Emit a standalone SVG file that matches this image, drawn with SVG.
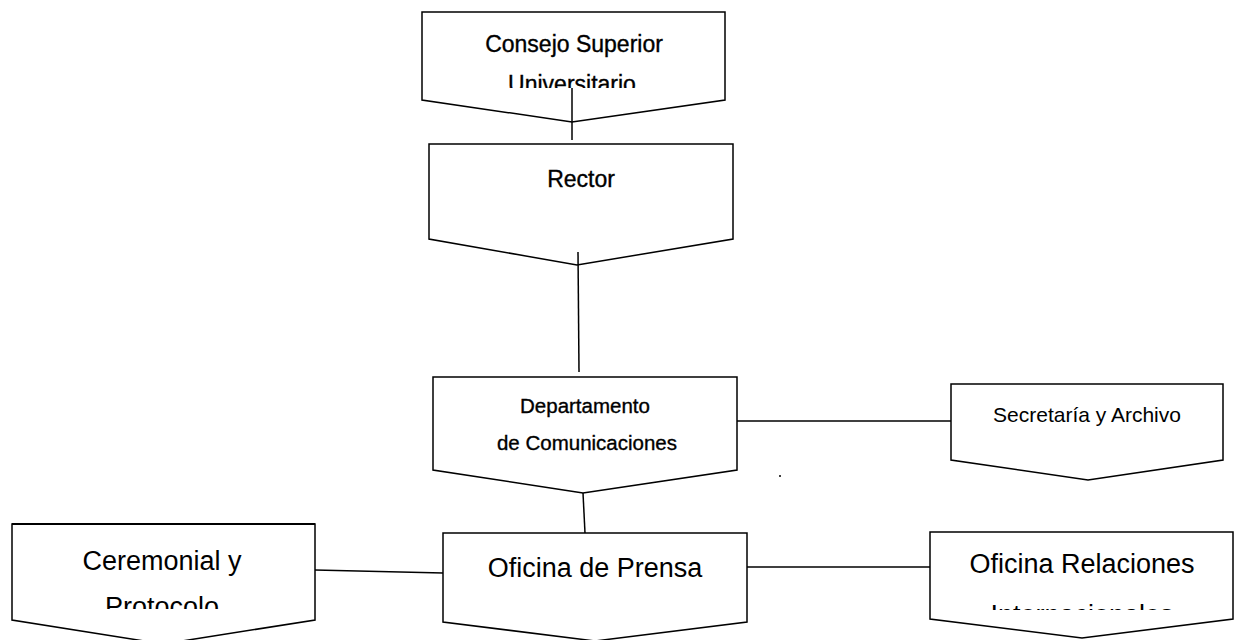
<svg xmlns="http://www.w3.org/2000/svg" width="1240" height="640" viewBox="0 0 1240 640">
<style>
  .box { fill: #fff; stroke: #000; stroke-width: 1.5; stroke-linejoin: miter; }
  .conn { stroke: #000; stroke-width: 1.5; fill: none; }
  text { font-family: "Liberation Sans", Arial, sans-serif; fill: #000; text-anchor: middle; }
  .t1 { font-size: 23px; stroke: #000; stroke-width: 0.35; }
  .t2 { font-size: 20.5px; stroke: #000; stroke-width: 0.35; }
  .t3 { font-size: 21px; }
  .t4 { font-size: 27px; }
</style>
<defs>
  <clipPath id="clipConsejo"><rect x="422" y="12" width="303" height="76"/></clipPath>
  <clipPath id="clipCeremonial"><rect x="12" y="524" width="303" height="85"/></clipPath>
  <clipPath id="clipRelaciones"><rect x="930" y="532" width="303" height="78"/></clipPath>
</defs>
<rect width="1240" height="640" fill="#fff"/>

<g id="node-consejo">
  <polygon class="box" points="422,12 725,12 725,100 572,122 422,100"/>
  <text class="t1" x="574" y="52">Consejo Superior</text>
  <text class="t1" x="572" y="92" clip-path="url(#clipConsejo)">Universitario</text>
</g>

<g id="node-rector">
  <polygon class="box" points="429,144 733,144 733,239 577,265 429,239"/>
  <text class="t1" x="581" y="187">Rector</text>
</g>

<g id="node-departamento">
  <polygon class="box" points="433,377 737,377 737,470 583,493 433,470"/>
  <text class="t2" x="585" y="413">Departamento</text>
  <text class="t2" x="587" y="450">de Comunicaciones</text>
</g>

<g id="node-secretaria">
  <polygon class="box" points="951,384 1223,384 1223,460 1088,480 951,460"/>
  <text class="t3" x="1087" y="422">Secretaría y Archivo</text>
</g>

<g id="node-prensa">
  <polygon class="box" points="443,533 747,533 747,622 595,641 443,622"/>
  <text class="t4" x="595" y="577">Oficina de Prensa</text>
</g>

<g id="node-ceremonial">
  <polygon class="box" points="12,524 315,524 315,620 163,644 12,620"/>
  <line x1="12" y1="524" x2="315" y2="524" stroke="#000" stroke-width="2.2"/>
  <text class="t4" x="162" y="570">Ceremonial y</text>
  <text class="t4" x="162" y="616" clip-path="url(#clipCeremonial)">Protocolo</text>
</g>

<g id="node-relaciones">
  <polygon class="box" points="930,532 1233,532 1233,619 1082,638 930,619"/>
  <text class="t4" x="1082" y="573">Oficina Relaciones</text>
  <text class="t4" x="1082" y="624" clip-path="url(#clipRelaciones)">Internacionales</text>
</g>

<g id="connectors">
  <line class="conn" x1="572" y1="88" x2="572" y2="140"/>
  <line class="conn" x1="578" y1="252" x2="579" y2="372"/>
  <line class="conn" x1="737" y1="421" x2="951" y2="421"/>
  <line class="conn" x1="583" y1="493" x2="585" y2="533"/>
  <line class="conn" x1="315" y1="570" x2="443" y2="573"/>
  <line class="conn" x1="747" y1="567" x2="930" y2="567"/>
</g>

<circle cx="780" cy="476" r="1" fill="#000"/>
</svg>
